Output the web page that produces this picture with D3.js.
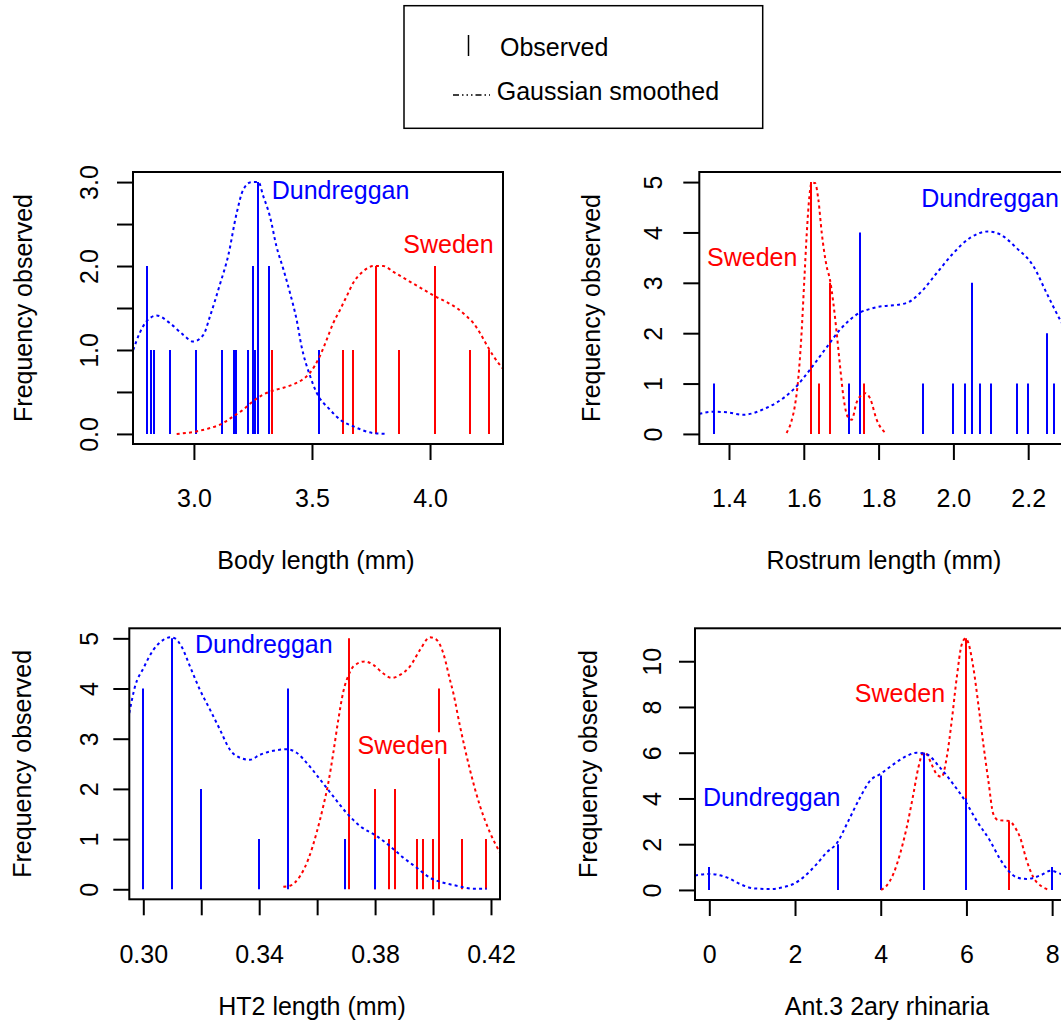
<!DOCTYPE html>
<html><head><meta charset="utf-8">
<script src="https://cdn.jsdelivr.net/npm/d3@7"></script>
<style>
body{margin:0;background:#fff;overflow:hidden}
text{font-family:"Liberation Sans",Arial,Helvetica,sans-serif;fill:#000}
</style>
</head><body>
<svg id="c" width="1061" height="1034"></svg>
<script>
// ================= DATA =================
const legendLabels = ["Observed", "Gaussian smoothed"];
const groupNames = ["Dundreggan", "Sweden"];
const yTitle = "Frequency observed";

// ---- Panel 1: Body length ----
const bodyXTicks = [3.0, 3.5, 4.0];
const bodyXLabels = ["3.0", "3.5", "4.0"];
const bodyYTicks = [0, 0.5, 1, 1.5, 2, 2.5, 3];
const bodyYLabels = ["0.0", "", "1.0", "", "2.0", "", "3.0"];
const bodyDundVals   = [2.80, 2.82, 2.83, 2.90, 3.01, 3.12, 3.17, 3.18, 3.23, 3.25, 3.26, 3.27, 3.32, 3.53];
const bodyDundCounts = [2, 1, 1, 1, 1, 1, 1, 1, 1, 2, 1, 3, 2, 1];
const bodySwedVals   = [3.33, 3.63, 3.675, 3.77, 3.87, 4.02, 4.17, 4.25];
const bodySwedCounts = [1, 1, 1, 2, 1, 2, 1, 1];
const bodyDundCurveX = [2.743, 2.770, 2.799, 2.842, 2.898, 2.955, 2.997, 3.040, 3.068, 3.110, 3.145, 3.181, 3.209, 3.244, 3.273, 3.294, 3.322, 3.350, 3.379, 3.407, 3.435, 3.456, 3.492, 3.520, 3.576, 3.619, 3.675, 3.760, 3.816];
const bodyDundCurveY = [1.00, 1.20, 1.34, 1.41, 1.32, 1.18, 1.10, 1.18, 1.40, 1.78, 2.12, 2.63, 2.91, 3.00, 3.00, 2.83, 2.59, 2.23, 1.96, 1.68, 1.36, 1.04, 0.69, 0.49, 0.29, 0.17, 0.09, 0.01, 0.00];
const bodySwedCurveX = [2.927, 3.011, 3.068, 3.110, 3.167, 3.209, 3.251, 3.294, 3.329, 3.379, 3.421, 3.456, 3.492, 3.534, 3.562, 3.590, 3.619, 3.647, 3.675, 3.718, 3.760, 3.802, 3.845, 3.887, 3.929, 3.972, 4.021, 4.071, 4.113, 4.155, 4.184, 4.212, 4.240, 4.268, 4.311];
const bodySwedCurveY = [0.00, 0.03, 0.07, 0.11, 0.21, 0.29, 0.39, 0.47, 0.51, 0.55, 0.59, 0.64, 0.73, 0.93, 1.12, 1.32, 1.48, 1.64, 1.80, 1.94, 2.00, 2.00, 1.93, 1.86, 1.79, 1.72, 1.64, 1.57, 1.50, 1.40, 1.32, 1.20, 1.06, 0.93, 0.77];

// ---- Panel 2: Rostrum length ----
const rostXTicks = [1.4, 1.6, 1.8, 2.0, 2.2];
const rostXLabels = ["1.4", "1.6", "1.8", "2.0", "2.2"];
const rostYTicks = [0, 1, 2, 3, 4, 5];
const rostYLabels = ["0", "1", "2", "3", "4", "5"];
const rostDundVals   = [1.36, 1.72, 1.75, 1.92, 2.00, 2.03, 2.05, 2.07, 2.10, 2.17, 2.20, 2.25, 2.27];
const rostDundCounts = [1, 1, 4, 1, 1, 1, 3, 1, 1, 1, 1, 2, 1];
const rostSwedVals   = [1.62, 1.64, 1.67, 1.76];
const rostSwedCounts = [5, 1, 3, 1];
const rostDundCurveX = [1.3207, 1.358, 1.394, 1.438, 1.501, 1.527, 1.572, 1.617, 1.661, 1.697, 1.748, 1.786, 1.875, 1.911, 1.955, 2.000, 2.044, 2.093, 2.125, 2.169, 2.214, 2.249, 2.285, 2.310];
const rostDundCurveY = [0.40, 0.44, 0.43, 0.38, 0.52, 0.62, 0.88, 1.28, 1.72, 2.07, 2.40, 2.50, 2.60, 2.80, 3.19, 3.59, 3.89, 4.02, 3.96, 3.69, 3.33, 2.80, 2.27, 1.95];
const rostSwedCurveX = [1.554, 1.568, 1.576, 1.585, 1.594, 1.601, 1.608, 1.615, 1.621, 1.630, 1.639, 1.648, 1.661, 1.670, 1.679, 1.688, 1.697, 1.707, 1.719, 1.728, 1.741, 1.755, 1.764, 1.777, 1.795, 1.819];
const rostSwedCurveY = [0.02, 0.28, 0.55, 1.08, 2.00, 3.00, 3.99, 4.72, 4.99, 4.98, 4.65, 3.99, 3.33, 3.06, 2.60, 2.00, 1.34, 0.68, 0.32, 0.28, 0.62, 0.78, 0.81, 0.71, 0.28, 0.01];

// ---- Panel 3: HT2 length ----
const ht2XTicks = [0.30, 0.32, 0.34, 0.36, 0.38, 0.40, 0.42];
const ht2XLabels = ["0.30", "", "0.34", "", "0.38", "", "0.42"];
const ht2YTicks = [0, 1, 2, 3, 4, 5];
const ht2YLabels = ["0", "1", "2", "3", "4", "5"];
const ht2DundVals   = [0.300, 0.310, 0.320, 0.340, 0.350, 0.3696, 0.380];
const ht2DundCounts = [4, 5, 2, 1, 4, 1, 1];
const ht2SwedVals   = [0.3711, 0.380, 0.3849, 0.3870, 0.3946, 0.3967, 0.4001, 0.4022, 0.4099, 0.4182];
const ht2SwedCounts = [5, 2, 1, 2, 1, 1, 1, 4, 1, 1];
const ht2DundCurveX = [0.29518, 0.29714, 0.30000, 0.30346, 0.30691, 0.30921, 0.31094, 0.31324, 0.31612, 0.31957, 0.32302, 0.32647, 0.32992, 0.33337, 0.33682, 0.34028, 0.34488, 0.34948, 0.35293, 0.35638, 0.36098, 0.36558, 0.37019, 0.37479, 0.38054, 0.38514, 0.38974, 0.39435, 0.39895, 0.40355, 0.40815, 0.41390, 0.41851];
const ht2DundCurveY = [3.51, 4.04, 4.40, 4.77, 4.97, 5.02, 5.00, 4.83, 4.44, 3.97, 3.58, 3.18, 2.78, 2.62, 2.58, 2.68, 2.76, 2.79, 2.72, 2.52, 2.19, 1.85, 1.52, 1.26, 1.06, 0.86, 0.63, 0.43, 0.23, 0.13, 0.07, 0.01, 0.01];
const ht2SwedCurveX = [0.34833, 0.35063, 0.35408, 0.35696, 0.35983, 0.36213, 0.36386, 0.36558, 0.36731, 0.36904, 0.37111, 0.37249, 0.37651, 0.37939, 0.38284, 0.38572, 0.38859, 0.39204, 0.39550, 0.39895, 0.40125, 0.40355, 0.40585, 0.40700, 0.40930, 0.41275, 0.41620, 0.41966, 0.42311];
const ht2SwedCurveY = [0.05, 0.07, 0.26, 0.60, 1.13, 1.66, 2.12, 2.72, 3.38, 3.94, 4.30, 4.44, 4.54, 4.47, 4.30, 4.21, 4.27, 4.44, 4.77, 5.02, 4.97, 4.70, 4.17, 3.91, 3.25, 2.38, 1.66, 1.13, 0.73];

// ---- Panel 4: Ant.3 2ary rhinaria ----
const antXTicks = [0, 2, 4, 6, 8];
const antXLabels = ["0", "2", "4", "6", "8"];
const antYTicks = [0, 2, 4, 6, 8, 10];
const antYLabels = ["0", "2", "4", "6", "8", "10"];
const antDundVals   = [0, 3, 4, 5, 6, 8];
const antDundCounts = [1, 2, 5, 6, 4, 1];
const antSwedVals   = [5, 6, 7];
const antSwedCounts = [6, 11, 3];
const antDundCurveX = [-0.334, 0.000, 0.405, 0.716, 1.028, 1.417, 1.728, 1.961, 2.194, 2.506, 2.739, 2.972, 3.245, 3.517, 3.750, 4.007, 4.295, 4.606, 4.839, 5.073, 5.384, 5.695, 5.967, 6.240, 6.551, 6.784, 6.979, 7.173, 7.407, 7.718, 7.974, 8.208, 8.418];
const antDundCurveY = [0.63, 0.70, 0.55, 0.26, 0.07, 0.04, 0.12, 0.26, 0.55, 1.13, 1.64, 2.03, 3.02, 4.04, 4.77, 5.09, 5.49, 5.86, 6.00, 5.93, 5.35, 4.62, 3.90, 3.02, 2.15, 1.35, 0.84, 0.55, 0.48, 0.63, 0.84, 0.70, 0.63];
const antSwedCurveX = [4.007, 4.139, 4.295, 4.450, 4.606, 4.762, 4.878, 4.995, 5.073, 5.189, 5.306, 5.423, 5.539, 5.656, 5.773, 5.890, 5.980, 6.045, 6.162, 6.278, 6.395, 6.512, 6.629, 6.745, 6.994, 7.134, 7.251, 7.407, 7.562, 7.757, 7.951];
const antSwedCurveY = [0.00, 0.19, 0.70, 1.57, 2.73, 4.19, 5.35, 6.00, 5.93, 5.49, 5.06, 4.94, 5.78, 7.38, 9.27, 10.73, 11.00, 10.80, 9.71, 8.11, 6.37, 4.77, 3.31, 3.05, 3.02, 2.73, 2.30, 1.28, 0.55, 0.15, 0.00];

// ================= LAYOUT / STYLE =================
const BLUE = "#0000ff", RED = "#ff0000";
const FONT = 25;
const panels = [
  { id: "p1", box: [133, 172, 503, 444], xDom: [2.742, 4.309], yDom: [-0.12, 3.12],
    xTicks: bodyXTicks, xLabels: bodyXLabels, yTicks: bodyYTicks, yLabels: bodyYLabels,
    xTitle: "Body length (mm)", yLabelX: 98, yTitleX: 32, xLabelY: 507, xTitleY: 569,
    dund: [bodyDundVals, bodyDundCounts, bodyDundCurveX, bodyDundCurveY],
    swed: [bodySwedVals, bodySwedCounts, bodySwedCurveX, bodySwedCurveY],
    dundLab: [3.621, 2.80], swedLab: [4.078, 2.158], xTitleX: 316 },
  { id: "p2", box: [699.3, 172, 1069.3, 444], xDom: [1.3206, 2.3099], yDom: [-0.2, 5.2],
    xTicks: rostXTicks, xLabels: rostXLabels, yTicks: rostYTicks, yLabels: rostYLabels,
    xTitle: "Rostrum length (mm)", yLabelX: 661.5, yTitleX: 600, xLabelY: 507, xTitleY: 569,
    dund: [rostDundVals, rostDundCounts, rostDundCurveX, rostDundCurveY],
    swed: [rostSwedVals, rostSwedCounts, rostSwedCurveX, rostSwedCurveY],
    dundLab: [2.098, 4.50], swedLab: [1.462, 3.34], xTitleX: 884 },
  { id: "p3", box: [129.3, 628.3, 500, 899.3], xDom: [0.29517, 0.42311], yDom: [-0.2, 5.2],
    xTicks: ht2XTicks, xLabels: ht2XLabels, yTicks: ht2YTicks, yLabels: ht2YLabels,
    xTitle: "HT2 length (mm)", yLabelX: 98, yTitleX: 31, xLabelY: 963, xTitleY: 1015,
    dund: [ht2DundVals, ht2DundCounts, ht2DundCurveX, ht2DundCurveY],
    swed: [ht2SwedVals, ht2SwedCounts, ht2SwedCurveX, ht2SwedCurveY],
    dundLab: [0.3416, 4.715], swedLab: [0.38956, 2.69], xTitleX: 312 },
  { id: "p4", box: [695, 628.3, 1065, 900], xDom: [-0.334, 8.30], yDom: [-0.44, 11.44],
    xTicks: antXTicks, xLabels: antXLabels, yTicks: antYTicks, yLabels: antYLabels,
    xTitle: "Ant.3 2ary rhinaria", yLabelX: 661, yTitleX: 597, xLabelY: 963, xTitleY: 1015,
    dund: [antDundVals, antDundCounts, antDundCurveX, antDundCurveY],
    swed: [antSwedVals, antSwedCounts, antSwedCurveX, antSwedCurveY],
    dundLab: [1.456, 3.67], swedLab: [4.45, 8.20], xTitleX: 887 }
];

const svg = d3.select("#c");
svg.append("rect").attr("width", 1061).attr("height", 1034).attr("fill", "#fff");
const defs = svg.append("defs");

panels.forEach(p => {
  const [L, T, R, B] = p.box;
  const x = d3.scaleLinear().domain(p.xDom).range([L, R]);
  const y = d3.scaleLinear().domain(p.yDom).range([B, T]);
  const g = svg.append("g").attr("id", p.id);

  defs.append("clipPath").attr("id", "clip-" + p.id)
    .append("rect").attr("x", L).attr("y", T).attr("width", R - L).attr("height", B - T);
  const plot = g.append("g").attr("clip-path", `url(#clip-${p.id})`);

  // observed lines: Sweden first, then Dundreggan on top (snapped to whole pixels)
  const drawObs = (vals, counts, color) => {
    plot.append("g").selectAll("line").data(d3.zip(vals, counts)).join("line")
      .attr("x1", d => Math.round(x(d[0]))).attr("x2", d => Math.round(x(d[0])))
      .attr("y1", y(0)).attr("y2", d => y(d[1]))
      .attr("stroke", color).attr("stroke-width", 2);
  };
  drawObs(p.swed[0], p.swed[1], RED);
  drawObs(p.dund[0], p.dund[1], BLUE);

  // smoothed curves
  const line = d3.line().x(d => x(d[0])).y(d => y(d[1])).curve(d3.curveMonotoneX);
  const drawCurve = (xs, ys, color) => {
    plot.append("path").datum(d3.zip(xs, ys)).attr("d", line)
      .attr("fill", "none").attr("stroke", color).attr("stroke-width", 2)
      .attr("stroke-dasharray", "3,3.2");
  };
  drawCurve(p.swed[2], p.swed[3], RED);
  drawCurve(p.dund[2], p.dund[3], BLUE);

  // group labels with white background
  const addLabel = (pos, txt, color) => {
    const lg = g.append("g");
    const t = lg.append("text").attr("x", x(pos[0])).attr("y", y(pos[1]))
      .attr("text-anchor", "middle").attr("font-size", FONT).style("fill", color).text(txt);
    const bb = t.node().getBBox();
    lg.insert("rect", "text").attr("x", bb.x - 1).attr("y", bb.y + 1)
      .attr("width", bb.width + 2).attr("height", bb.height - 2).attr("fill", "#fff");
  };
  addLabel(p.dundLab, groupNames[0], BLUE);
  addLabel(p.swedLab, groupNames[1], RED);

  // box
  g.append("rect").attr("x", L).attr("y", T).attr("width", R - L).attr("height", B - T)
    .attr("fill", "none").attr("stroke", "#000").attr("stroke-width", 2);

  // x axis
  const xa = g.append("g").attr("transform", `translate(0,${B})`)
    .call(d3.axisBottom(x).tickValues(p.xTicks).tickSize(16).tickFormat((d, i) => p.xLabels[i]));
  xa.select(".domain").remove();
  xa.selectAll(".tick line").attr("stroke", "#000").attr("stroke-width", 2);
  xa.selectAll(".tick text").attr("y", p.xLabelY - B).attr("dy", 0)
    .attr("font-size", FONT).attr("font-family", null).style("fill", "#000");

  // y axis
  const ya = g.append("g").attr("transform", `translate(${L},0)`)
    .call(d3.axisLeft(y).tickValues(p.yTicks).tickSize(16).tickFormat((d, i) => p.yLabels[i]));
  ya.select(".domain").remove();
  ya.selectAll(".tick line").attr("stroke", "#000").attr("stroke-width", 2);
  ya.selectAll(".tick text").attr("transform", "rotate(-90)")
    .attr("x", 0).attr("y", -(L - p.yLabelX)).attr("dy", 0)
    .attr("text-anchor", "middle").attr("font-size", FONT).attr("font-family", null).style("fill", "#000");

  // titles
  g.append("text").attr("x", p.xTitleX).attr("y", p.xTitleY).attr("text-anchor", "middle")
    .attr("font-size", FONT).text(p.xTitle);
  const cy = (T + B) / 2;
  g.append("text").attr("transform", `translate(${p.yTitleX},${cy}) rotate(-90)`)
    .attr("text-anchor", "middle").attr("font-size", FONT).text(yTitle);
});

// ================= LEGEND =================
const leg = svg.append("g");
leg.append("rect").attr("x", 404).attr("y", 5.7).attr("width", 358.7).attr("height", 122.6)
  .attr("fill", "#fff").attr("stroke", "#000").attr("stroke-width", 1.5);
leg.append("line").attr("x1", 468.5).attr("x2", 468.5).attr("y1", 35).attr("y2", 56)
  .attr("stroke", "#000").attr("stroke-width", 1.5);
leg.append("line").attr("x1", 453).attr("x2", 490).attr("y1", 95).attr("y2", 95)
  .attr("stroke", "#000").attr("stroke-width", 1.5).attr("stroke-dasharray", "6,3,1.5,3,1.5,3,1.5,3");
leg.append("text").attr("x", 500).attr("y", 56).attr("font-size", FONT).text(legendLabels[0]);
leg.append("text").attr("x", 496.7).attr("y", 100).attr("font-size", FONT).text(legendLabels[1]);
</script>
</body></html>
